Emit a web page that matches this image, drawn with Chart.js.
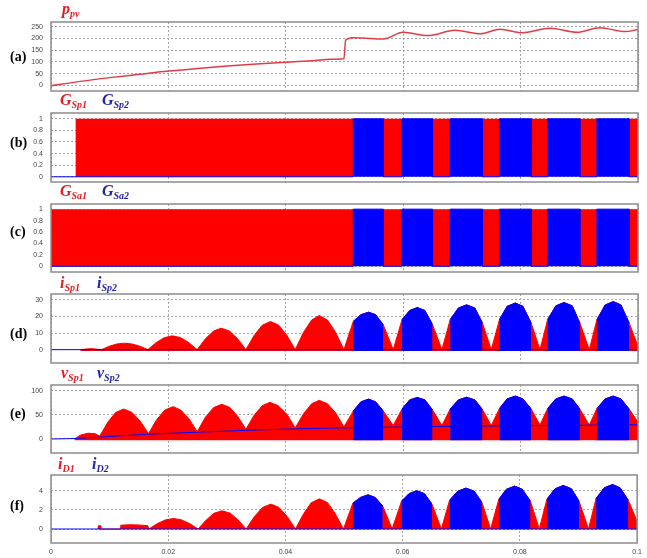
<!DOCTYPE html>
<html>
<head>
<meta charset="utf-8">
<script src="https://cdn.jsdelivr.net/npm/chart.js@4.4.1/dist/chart.umd.min.js"></script>
<style>
  body { margin: 0; background: #fff; width: 647px; height: 558px; position: relative; overflow: hidden; }
  .lbl { position: absolute; left: 10px; font: bold 14px 'Liberation Serif', serif; line-height: 14px; color: #000; }
  .ttl { position: absolute; font: bold italic 16px 'Liberation Serif', serif; line-height: 16px; white-space: nowrap; }
  .ttl sub { font-size: 10px; vertical-align: baseline; position: relative; top: 3px; }
  .r { color: #e51c23; }
  .b { color: #2424a8; }
</style>
</head>
<body>
<div id="wrap"></div>

<div class="lbl" style="top:50px">(a)</div>
<div class="lbl" style="top:136px">(b)</div>
<div class="lbl" style="top:225px">(c)</div>
<div class="lbl" style="top:327px">(d)</div>
<div class="lbl" style="top:407px">(e)</div>
<div class="lbl" style="top:499px">(f)</div>

<div class="ttl r" style="top:1px;left:62px">p<sub>pv</sub></div>
<div class="ttl r" style="top:92px;left:60px">G<sub>Sp1</sub></div>
<div class="ttl b" style="top:92px;left:102px">G<sub>Sp2</sub></div>
<div class="ttl r" style="top:183px;left:60px">G<sub>Sa1</sub></div>
<div class="ttl b" style="top:183px;left:102px">G<sub>Sa2</sub></div>
<div class="ttl r" style="top:275px;left:60px">i<sub>Sp1</sub></div>
<div class="ttl b" style="top:275px;left:97px">i<sub>Sp2</sub></div>
<div class="ttl r" style="top:365px;left:61px">v<sub>Sp1</sub></div>
<div class="ttl b" style="top:365px;left:97px">v<sub>Sp2</sub></div>
<div class="ttl r" style="top:456px;left:58px">i<sub>D1</sub></div>
<div class="ttl b" style="top:456px;left:92px">i<sub>D2</sub></div>

<script>
// time axis (s)
const xTicks = [0, 0.02, 0.04, 0.06, 0.08, 0.1];

// intervals where the second switch (blue) conducts
const blueOn = [[0.0515, 0.0566], [0.0598, 0.0650], [0.0680, 0.0735],
                [0.0764, 0.0818], [0.0846, 0.0901], [0.0930, 0.0985]];
const gSp1Start = 0.0042;
const gSa1Start = 0;

// (a) PV power
const yTicksA = [0, 50, 100, 150, 200, 250];
const pPv = [[0, -2], [0.005, 17], [0.01, 33], [0.015, 47], [0.02, 61], [0.025, 72], [0.03, 82],
  [0.035, 91], [0.04, 99], [0.045, 106], [0.0475, 111], [0.0499, 113], [0.0502, 193], [0.0514, 203],
  [0.053, 202], [0.0566, 198], [0.06, 226], [0.0642, 212], [0.0688, 235], [0.0731, 220],
  [0.0765, 239], [0.0802, 224], [0.085, 243], [0.0896, 226], [0.0935, 246], [0.0978, 229], [0.1, 238]];

// (b), (c) gate signals
const yTicksG = [0, 0.2, 0.4, 0.6, 0.8, 1];

// (d) switch current envelope
const yTicksD = [0, 10, 20, 30];
const iSp = [[0.0050, 0], [0.0060, 0.4], [0.0068, 0.6], [0.0076, 0.4], [0.0083, 0],
  [0.0086, 0], [0.0099, 2.0], [0.0112, 3.4], [0.0125, 3.9], [0.0138, 3.4], [0.0152, 2.0], [0.0165, 0],
  [0.0179, 4.2], [0.0193, 7.2], [0.0207, 8.3], [0.0221, 7.2], [0.0235, 4.2], [0.0249, 0],
  [0.0263, 6.5], [0.0277, 11.2], [0.0290, 12.9], [0.0304, 11.2], [0.0318, 6.5], [0.0332, 0],
  [0.0346, 8.5], [0.0360, 14.7], [0.0374, 16.9], [0.0388, 14.7], [0.0402, 8.5], [0.0416, 0],
  [0.0430, 10.3], [0.0444, 17.8], [0.0457, 20.5], [0.0471, 17.8], [0.0485, 10.3], [0.0499, 0],
  [0.0515, 17], [0.0528, 21], [0.0541, 22.5], [0.0553, 21], [0.0566, 15], [0.0583, 0],
  [0.0598, 18], [0.0611, 23.5], [0.0624, 25.3], [0.0637, 23.5], [0.0650, 15], [0.0666, 0],
  [0.0680, 18], [0.0694, 25], [0.0708, 26.9], [0.0722, 25], [0.0735, 16], [0.0750, 0],
  [0.0764, 18], [0.0777, 26], [0.0791, 28], [0.0804, 26], [0.0818, 16], [0.0833, 0],
  [0.0846, 18], [0.0860, 26.3], [0.0874, 28.3], [0.0888, 26.3], [0.0901, 16], [0.0917, 0],
  [0.0930, 18], [0.0944, 26.8], [0.0958, 28.9], [0.0971, 26.8], [0.0985, 16], [0.1000, 2]];
const iSp2Off = [[0, 0], [0.1, 0]];

// (e) switch voltage envelope
const yTicksE = [0, 50, 100];
const vSp = [[0.0040, 0], [0.0050, 8], [0.0063, 12], [0.0075, 11], [0.0083, 6],
  [0.0097, 35], [0.0110, 55], [0.0124, 62], [0.0138, 55], [0.0152, 37], [0.0166, 11],
  [0.0180, 40], [0.0194, 60], [0.0208, 67], [0.0221, 60], [0.0235, 42], [0.0249, 15],
  [0.0263, 45], [0.0277, 65], [0.0291, 72], [0.0305, 65], [0.0318, 47], [0.0332, 20],
  [0.0346, 49], [0.0360, 69], [0.0373, 76], [0.0387, 69], [0.0402, 51], [0.0416, 23],
  [0.0430, 52], [0.0444, 73], [0.0457, 80], [0.0471, 73], [0.0485, 54], [0.0499, 25],
  [0.0515, 58], [0.0528, 77], [0.0541, 82.6], [0.0553, 77], [0.0566, 58], [0.0583, 28],
  [0.0598, 62], [0.0611, 81], [0.0624, 86], [0.0637, 81], [0.0650, 60], [0.0666, 28],
  [0.0680, 62], [0.0694, 81], [0.0708, 86.5], [0.0722, 81], [0.0735, 61], [0.0750, 28],
  [0.0764, 63], [0.0777, 83], [0.0791, 88.8], [0.0804, 83], [0.0818, 62], [0.0833, 29],
  [0.0846, 63], [0.0860, 83], [0.0874, 88.8], [0.0888, 83], [0.0901, 62], [0.0917, 29],
  [0.0930, 63], [0.0944, 83], [0.0958, 88.8], [0.0971, 83], [0.0985, 62], [0.1000, 35]];
const vSp2Off = [[0, 0], [0.0043, 1], [0.0083, 4], [0.0166, 10], [0.0249, 14], [0.0332, 18],
  [0.0416, 21], [0.0499, 23], [0.06, 25], [0.07, 26.5], [0.08, 27.5], [0.09, 28.5], [0.1, 29.5]];

// (f) diode current envelope
const yTicksF = [0, 2, 4];
const iD = [[0.0080, 0], [0.0081, 0.35], [0.0084, 0.35], [0.0085, 0],
  [0.0118, 0], [0.0119, 0.4], [0.0135, 0.45], [0.0150, 0.42], [0.0165, 0.35], [0.0167, 0],
  [0.0181, 0.55], [0.0195, 0.95], [0.0209, 1.1], [0.0223, 0.95], [0.0237, 0.55], [0.0251, 0],
  [0.0265, 0.95], [0.0278, 1.65], [0.0292, 1.9], [0.0306, 1.65], [0.0319, 0.95], [0.0333, 0],
  [0.0347, 1.3], [0.0361, 2.25], [0.0375, 2.6], [0.0389, 2.25], [0.0403, 1.3], [0.0417, 0],
  [0.0431, 1.6], [0.0444, 2.75], [0.0458, 3.15], [0.0472, 2.75], [0.0485, 1.6], [0.0499, 0],
  [0.0515, 2.7], [0.0528, 3.3], [0.0541, 3.57], [0.0553, 3.3], [0.0566, 2.4], [0.0582, 0],
  [0.0598, 2.9], [0.0611, 3.7], [0.0624, 4.0], [0.0637, 3.7], [0.0650, 2.6], [0.0666, 0],
  [0.0680, 3.0], [0.0694, 3.95], [0.0708, 4.27], [0.0722, 3.95], [0.0735, 2.8], [0.0750, 0],
  [0.0764, 3.1], [0.0777, 4.15], [0.0791, 4.48], [0.0804, 4.15], [0.0818, 2.9], [0.0833, 0],
  [0.0846, 3.1], [0.0860, 4.2], [0.0874, 4.55], [0.0888, 4.2], [0.0901, 2.9], [0.0917, 0],
  [0.0930, 3.2], [0.0944, 4.3], [0.0958, 4.65], [0.0971, 4.3], [0.0985, 3.0], [0.1000, 0.8]];
const iD2Off = [[0, 0], [0.1, 0]];

const RED = '#ff0000', BLUE = '#0000ff', GRID = '#a6a6a6';
Chart.defaults.font.family = "'Liberation Sans', Arial, sans-serif";

const pts = arr => arr.map(([x, y]) => ({x, y}));

// envelope points that fall inside the blue conduction intervals
function bluePart(env) {
  const out = [];
  blueOn.forEach(([s, e], k) => {
    if (k) out.push({x: (s + blueOn[k - 1][1]) / 2, y: null});
    env.forEach(([t, v]) => { if (t >= s - 1e-9 && t <= e + 1e-9) out.push({x: t, y: v}); });
  });
  return out;
}

// gate signal of switch 1: high from start, low while switch 2 conducts
function gate1(start) {
  const out = [{x: 0, y: 0}, {x: start, y: 0}, {x: start, y: 1}];
  blueOn.forEach(([s, e]) => out.push({x: s, y: 1}, {x: s, y: 0}, {x: e, y: 0}, {x: e, y: 1}));
  out.push({x: 0.1, y: 1});
  return out;
}
function gate2() {
  const out = [{x: 0, y: 0}];
  blueOn.forEach(([s, e]) => out.push({x: s, y: 0}, {x: s, y: 1}, {x: e, y: 1}, {x: e, y: 0}));
  out.push({x: 0.1, y: 0});
  return out;
}

const frame = {
  id: 'frame',
  afterDatasetsDraw(chart) {
    const {ctx, chartArea: a} = chart;
    ctx.save();
    ctx.strokeStyle = '#8c8c8c';
    ctx.lineWidth = 1.5;
    ctx.strokeRect(a.left, a.top, a.right - a.left, a.bottom - a.top);
    ctx.restore();
  }
};

// the y axis asks for half a label plus tick padding above and below the plot
const PAD = 13;

function panel(top, h, ymin, ymax, yTicks, datasets, xLabels) {
  const padBot = xLabels ? 1 : PAD, xh = xLabels ? 12 : 0;
  const cv = document.createElement('canvas');
  cv.width = 647;
  cv.height = PAD + h + xh + padBot;
  cv.style.cssText = `position:absolute;left:0;top:${top - PAD}px`;
  document.getElementById('wrap').appendChild(cv);
  new Chart(cv, {
    type: 'line',
    data: {datasets},
    plugins: [frame],
    options: {
      responsive: false,
      animation: false,
      devicePixelRatio: 1,
      layout: {padding: {left: 0, right: 9, top: PAD, bottom: padBot}},
      plugins: {legend: {display: false}, tooltip: {enabled: false}},
      elements: {point: {radius: 0}, line: {tension: 0}},
      scales: {
        x: {
          type: 'linear', min: 0, max: 0.1,
          afterBuildTicks: s => { s.ticks = xTicks.map(v => ({value: v})); },
          afterFit: s => { s.height = xh; },
          grid: {color: GRID, drawTicks: false},
          border: {display: false, dash: [2, 2]},
          ticks: {display: xLabels, padding: 5, color: '#444', font: {size: 7},
                  maxRotation: 0, autoSkip: false, callback: v => String(v)}
        },
        y: {
          type: 'linear', min: ymin, max: ymax,
          afterBuildTicks: s => { s.ticks = yTicks.map(v => ({value: v})); },
          afterFit: s => { s.width = 51; },
          grid: {color: GRID, drawTicks: false},
          border: {display: false, dash: [2, 2]},
          ticks: {padding: 8, color: '#444', font: {size: 7}, callback: v => String(v)}
        }
      }
    }
  });
}

// (a)
panel(22, 69, -24, 270, yTicksA, [
  {data: pts(pPv), borderColor: '#e33b45', borderWidth: 1.5, fill: false, cubicInterpolationMode: 'monotone'}
], false);

// (b)
panel(113, 69, -0.09, 1.1, yTicksG, [
  {data: gate2(), borderColor: BLUE, backgroundColor: BLUE, borderWidth: 1, fill: 'origin', order: 0},
  {data: gate1(gSp1Start), borderColor: RED, backgroundColor: RED, borderWidth: 0, fill: 'origin', order: 1}
], false);

// (c)
panel(204, 68, -0.1, 1.09, yTicksG, [
  {data: gate2(), borderColor: BLUE, backgroundColor: BLUE, borderWidth: 1, fill: 'origin', order: 0},
  {data: gate1(gSa1Start), borderColor: RED, backgroundColor: RED, borderWidth: 0, fill: 'origin', order: 1}
], false);

// (d)
panel(294, 69, -8, 33.4, yTicksD, [
  {data: bluePart(iSp), borderColor: BLUE, backgroundColor: BLUE, borderWidth: 1, fill: {value: -0.8}, order: 0},
  {data: pts(iSp2Off), borderColor: BLUE, borderWidth: 1, fill: false, order: 1},
  {data: pts(iSp), borderColor: RED, backgroundColor: RED, borderWidth: 1, fill: {value: -0.8}, order: 2}
], false);

// (e)
panel(385, 68, -29, 111.8, yTicksE, [
  {data: bluePart(vSp), borderColor: BLUE, backgroundColor: BLUE, borderWidth: 1, fill: {value: -2.5}, order: 0},
  {data: pts(vSp2Off), borderColor: BLUE, borderWidth: 1, fill: false, order: 1},
  {data: pts(vSp), borderColor: RED, backgroundColor: RED, borderWidth: 1, fill: {value: -2.5}, order: 2}
], false);

// (f)
panel(475, 68, -1.46, 5.64, yTicksF, [
  {data: bluePart(iD), borderColor: BLUE, backgroundColor: BLUE, borderWidth: 1, fill: {value: 0}, order: 0},
  {data: pts(iD2Off), borderColor: BLUE, borderWidth: 1, fill: false, order: 1},
  {data: pts(iD), borderColor: RED, backgroundColor: RED, borderWidth: 1, fill: {value: 0}, order: 2}
], true);
</script>
</body>
</html>
